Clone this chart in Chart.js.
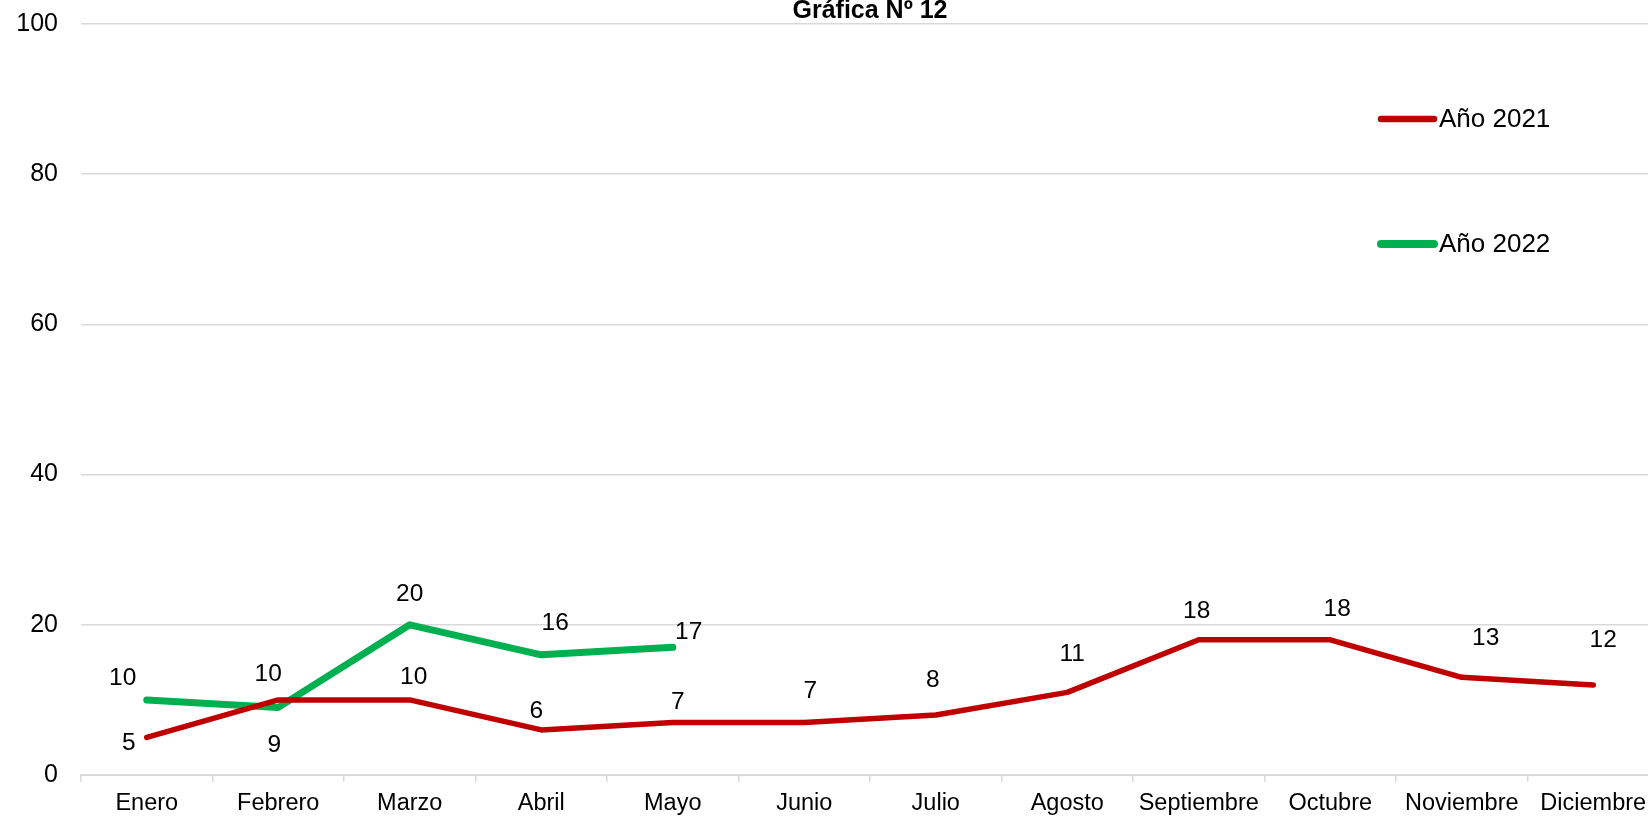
<!DOCTYPE html>
<html>
<head>
<meta charset="utf-8">
<script src="https://cdn.jsdelivr.net/npm/chart.js@4.4.1/dist/chart.umd.min.js"></script>
<style>
html,body{margin:0;padding:0;background:#fff;overflow:hidden;}
#wrap{position:absolute;left:0;top:0;width:1660px;height:817px;}
</style>
</head>
<body>
<div id="wrap"><canvas id="c" width="1660" height="817"></canvas></div>
<script>
const categories = ["Enero","Febrero","Marzo","Abril","Mayo","Junio","Julio","Agosto","Septiembre","Octubre","Noviembre","Diciembre"];
const series2021 = [5,10,10,6,7,7,8,11,18,18,13,12];
const series2022 = [10,9,20,16,17];
const yTicks = [0,20,40,60,80,100];
const titleText = "Gráfica Nº 12";
const seriesNames = ["Año 2021","Año 2022"];

// label offsets (pixels from the point), styling only
const off2021 = [[-18,6],[-10,-26],[4,-23],[-5,-19],[5,-20],[6,-31],[-3,-35],[5,-38],[-2,-29],[7,-31],[24,-39],[10,-45]];
const off2022 = [[-24,-22],[-4,38],[0,-31],[14,-32],[16,-15]];

const FONT = "'Liberation Sans', Arial, sans-serif";

const labelPlugin = {
  id:'labels',
  afterDatasetsDraw(chart){
    const ctx = chart.ctx;
    ctx.save();
    ctx.fillStyle = '#000';
    ctx.font = "24.5px " + FONT;
    ctx.textAlign = 'center';
    ctx.textBaseline = 'middle';
    chart.data.datasets.forEach((ds, di) => {
      const meta = chart.getDatasetMeta(di);
      meta.data.forEach((pt, i) => {
        const o = ds.labelOffsets[i] || [0,-25];
        ctx.fillText(String(ds.data[i]), pt.x + o[0], pt.y + o[1]);
      });
    });
    ctx.restore();
  }
};

const decoPlugin = {
  id:'deco',
  afterDraw(chart){
    const ctx = chart.ctx;
    const a = chart.chartArea;
    ctx.save();
    // title
    ctx.fillStyle = '#000';
    ctx.font = "bold 25px " + FONT;
    ctx.textAlign = 'center';
    ctx.textBaseline = 'alphabetic';
    ctx.fillText(titleText, (a.left + a.right)/2, 18);
    // legend
    const ys = [119, 244];
    chart.data.datasets.forEach((ds, di) => {
      ctx.strokeStyle = ds.borderColor;
      ctx.lineWidth = ds.borderWidth + 1;
      ctx.lineCap = 'round';
      ctx.beginPath();
      ctx.moveTo(1381, ys[di]);
      ctx.lineTo(1434, ys[di]);
      ctx.stroke();
      ctx.fillStyle = '#000';
      ctx.font = "26px " + FONT;
      ctx.textAlign = 'left';
      ctx.textBaseline = 'middle';
      ctx.fillText(ds.label, 1439, ys[di] + 1);
    });
    ctx.restore();
  }
};

new Chart(document.getElementById('c'), {
  type:'line',
  data:{
    labels: categories,
    datasets:[
      {label: seriesNames[0], data: series2021, borderColor:'#C00000', backgroundColor:'#C00000', borderWidth:5.5, pointRadius:0, tension:0, borderCapStyle:'round', borderJoinStyle:'round', labelOffsets: off2021},
      {label: seriesNames[1], data: series2022, borderColor:'#00B050', backgroundColor:'#00B050', borderWidth:7, pointRadius:0, tension:0, borderCapStyle:'round', borderJoinStyle:'round', labelOffsets: off2022}
    ]
  },
  options:{
    responsive:false,
    animation:false,
    layout:{padding:{top:24, right:1, left:0, bottom:0}},
    plugins:{legend:{display:false}, title:{display:false}, tooltip:{enabled:false}},
    scales:{
      x:{
        offset:true,
        grid:{display:true, drawOnChartArea:false, drawTicks:true, tickLength:7, offset:true, color:'#d9d9d9', lineWidth:1.5},
        border:{display:true, color:'#d9d9d9', width:2},
        ticks:{color:'#000', font:{family:FONT, size:23.5}, padding:7, maxRotation:0, autoSkip:false},
        afterFit(s){ s.height = 42; s.paddingLeft = 0; s.paddingRight = 0; }
      },
      y:{
        min:0, max:100,
        afterBuildTicks(s){ s.ticks = yTicks.map(v=>({value:v})); },
        grid:{color:'#d9d9d9', lineWidth:1.5, drawTicks:false},
        border:{display:false},
        ticks:{color:'#000', font:{family:FONT, size:25}, padding:23},
        afterFit(s){ s.width = 81; s.paddingTop = 0; s.paddingBottom = 0; }
      }
    }
  },
  plugins:[labelPlugin, decoPlugin]
});
</script>
</body>
</html>
